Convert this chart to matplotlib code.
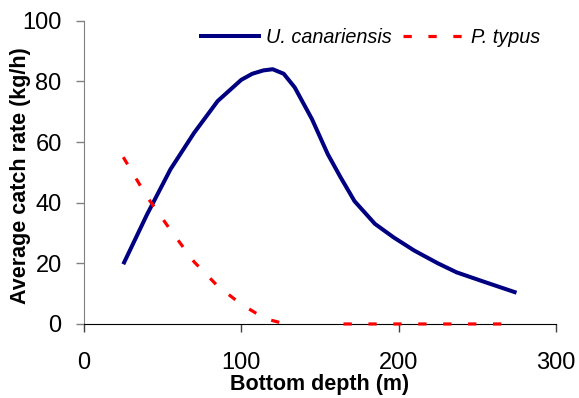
import numpy as np
import matplotlib
matplotlib.use("Agg")
import matplotlib.pyplot as plt

plt.rcParams['font.family'] = ['Liberation Sans', 'DejaVu Sans']

# U. canariensis
depth_uc = [25, 40, 55, 70, 85, 100, 107, 114, 120, 127, 134, 145, 155, 163,
            172, 185, 197, 210, 225, 237, 255, 275]
rate_uc = [19.7, 36, 51, 63, 73.5, 80.5, 82.5, 83.6, 84, 82.5, 78, 67.5, 56,
           48.5, 40.5, 33, 28.5, 24.2, 20, 17, 13.8, 10.3]

# P. typus
depth_pt = [25, 40, 55, 70, 85, 100, 115, 128, 147, 165, 185, 205, 225, 245, 275]
rate_pt = [55, 42, 31, 20.5, 12.5, 6.5, 1.8, 0, np.nan, 0, 0, 0, 0, 0, 0]

fig = plt.figure(figsize=(5.79, 3.98), dpi=100)
ax = fig.add_axes([0.145, 0.186, 0.815, 0.762])

ax.plot(depth_uc, rate_uc, color='#000080', lw=2.9, label='U. canariensis',
        solid_capstyle='butt', zorder=3)
ax.plot(depth_pt, rate_pt, color='#ff0000', lw=2.3, dashes=(2.6, 5.2),
        label='P. typus', clip_on=False, zorder=4)

ax.set_xlim(0, 300)
ax.set_ylim(0, 100)
ax.set_xticks([0, 100, 200, 300])
ax.set_yticks([0, 20, 40, 60, 80, 100])

for s in ['top', 'right']:
    ax.spines[s].set_visible(False)
ax.spines['left'].set_color('#808080')
ax.spines['bottom'].set_color('black')
ax.tick_params(axis='x', direction='out', length=6, width=1, color='#404040',
               labelsize=17, pad=14)
ax.tick_params(axis='y', direction='out', length=6, width=1, color='#808080',
               labelsize=17, pad=10)

ax.set_xlabel('Bottom depth (m)', fontsize=15.5, fontweight='bold', labelpad=0)
ax.set_ylabel('Average catch rate (kg/h)', fontsize=15.5, fontweight='bold')
ax.yaxis.set_label_coords(-0.112, 0.49)

leg = ax.legend(loc='upper center', bbox_to_anchor=(0.605, 1.035), ncol=2,
                frameon=False, handlelength=3.1, handletextpad=0.3,
                columnspacing=0.55, prop={'style': 'italic', 'size': 14.3})

fig.savefig('out.png', dpi=100)
